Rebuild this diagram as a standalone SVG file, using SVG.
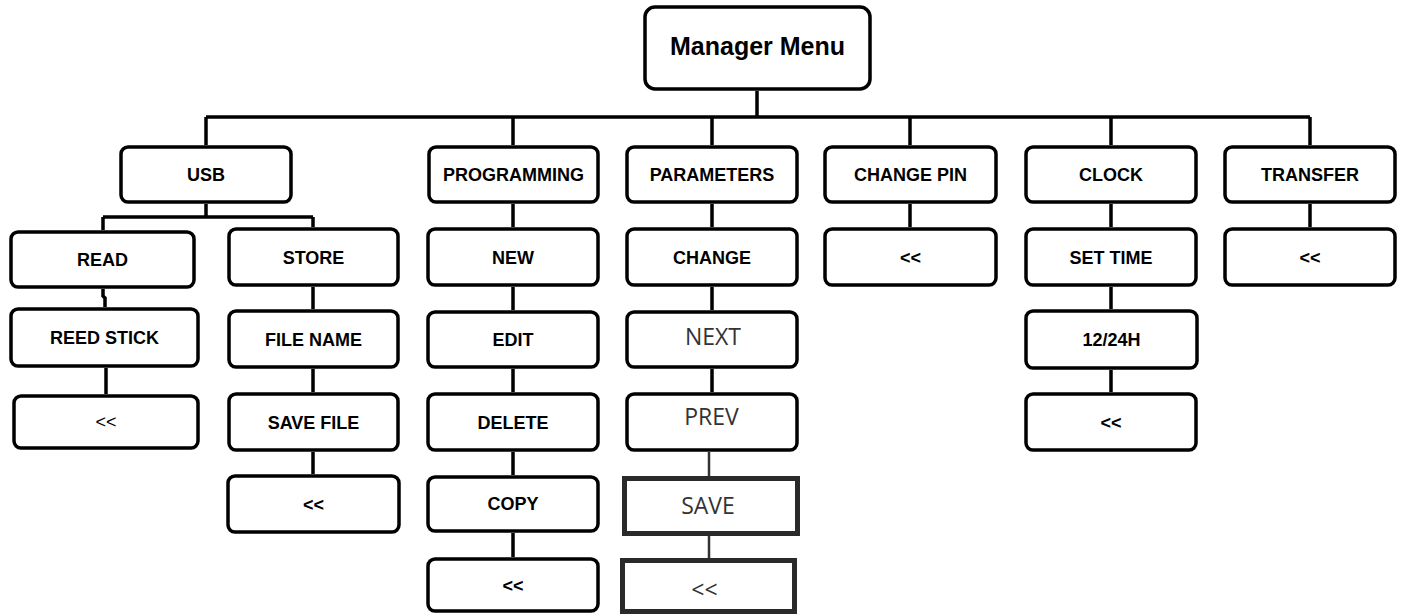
<svg xmlns="http://www.w3.org/2000/svg" width="1403" height="615" viewBox="0 0 1403 615">
<style>
.b{fill:#fff;stroke:#000;stroke-width:3.5}
.s{fill:#fff;stroke:#2a2a2a;stroke-width:5}
.t{font-family:"Liberation Sans",Arial,sans-serif;font-weight:bold;font-size:18px;fill:#000;text-anchor:middle}
.r{font-family:"Liberation Sans",Arial,sans-serif;font-size:18px;fill:#000;text-anchor:middle}
.g{font-family:"Open Sans","Noto Sans",sans-serif;font-size:23px;fill:#333;text-anchor:middle}
.c{fill:none;stroke:#000;stroke-width:3.5}
.c2{fill:none;stroke:#333;stroke-width:2.5}
</style>
<rect width="1403" height="615" fill="#fff"/>
<g id="connectors">
<path class="c" stroke-width="4" d="M757,91V117M206,117H1310M206,117V145M513,117V145M712,117V145M910,117V145M1111,117V145M1310,117V145"/>
<path class="c" d="M206,204V217M103,217H313M103,217V230M313,217V227"/>
<path class="c" d="M103,289V296L105,298V307M106,368V376L106,394"/>
<path class="c" d="M313,287V309M313,369V392M313,452V474"/>
<path class="c" d="M513,204V227M513,287V310M513,369V392M513,452V475M513,533V557"/>
<path class="c" d="M712,204V227M712,287V310M712,369V392"/>
<path class="c2" d="M709,452V476M709,536V558"/>
<path class="c" d="M910,204V227"/>
<path class="c" d="M1111,204V227M1111,287V309M1111,370V392"/>
<path class="c" d="M1310,204V227"/>
</g>
<g id="manager-menu"><rect class="b" stroke-width="4" x="645" y="7" width="225" height="82" rx="10"/><text class="t" style="font-size:25px" x="757.5" y="55">Manager Menu</text></g>
<g id="usb"><rect class="b" x="121" y="147" width="170" height="55" rx="7"/><text class="t" x="206" y="181">USB</text></g>
<g id="programming"><rect class="b" x="429" y="147" width="169" height="55" rx="7"/><text class="t" x="513.5" y="181">PROGRAMMING</text></g>
<g id="parameters"><rect class="b" x="627" y="147" width="170" height="55" rx="7"/><text class="t" x="712" y="181">PARAMETERS</text></g>
<g id="change-pin"><rect class="b" x="825" y="147" width="171" height="55" rx="7"/><text class="t" x="910.5" y="181">CHANGE PIN</text></g>
<g id="clock"><rect class="b" x="1026" y="147" width="170" height="55" rx="7"/><text class="t" x="1111" y="181">CLOCK</text></g>
<g id="transfer"><rect class="b" x="1225" y="147" width="170" height="55" rx="7"/><text class="t" x="1310" y="181">TRANSFER</text></g>

<g id="read"><rect class="b" x="11" y="232" width="183" height="55" rx="7"/><text class="t" x="102.5" y="266">READ</text></g>
<g id="store"><rect class="b" x="229" y="229" width="169" height="56" rx="7"/><text class="t" x="313.5" y="264">STORE</text></g>
<g id="new"><rect class="b" x="428" y="229" width="170" height="56" rx="7"/><text class="t" x="513" y="264">NEW</text></g>
<g id="change"><rect class="b" x="627" y="229" width="170" height="56" rx="7"/><text class="t" x="712" y="264">CHANGE</text></g>
<g id="change-pin-back"><rect class="b" x="825" y="229" width="171" height="56" rx="7"/><text class="t" x="910.5" y="264">&lt;&lt;</text></g>
<g id="set-time"><rect class="b" x="1026" y="229" width="170" height="56" rx="7"/><text class="t" x="1111" y="264">SET TIME</text></g>
<g id="transfer-back"><rect class="b" x="1225" y="229" width="170" height="56" rx="7"/><text class="t" x="1310" y="264">&lt;&lt;</text></g>

<g id="reed-stick"><rect class="b" x="11" y="309" width="187" height="57" rx="7"/><text class="t" x="104.5" y="344">REED STICK</text></g>
<g id="file-name"><rect class="b" x="229" y="311" width="169" height="56" rx="7"/><text class="t" x="313.5" y="346">FILE NAME</text></g>
<g id="edit"><rect class="b" x="428" y="312" width="170" height="55" rx="7"/><text class="t" x="513" y="346">EDIT</text></g>
<g id="next"><rect class="b" x="627" y="312" width="170" height="55" rx="7"/><text class="g" x="713" y="345">NEXT</text></g>
<g id="h1224"><rect class="b" x="1026" y="311" width="171" height="57" rx="7"/><text class="t" x="1111.5" y="346">12/24H</text></g>

<g id="read-back"><rect class="b" x="14" y="396" width="184" height="52" rx="7"/><text class="r" x="106" y="428">&lt;&lt;</text></g>
<g id="save-file"><rect class="b" x="229" y="394" width="169" height="56" rx="7"/><text class="t" x="313.5" y="429">SAVE FILE</text></g>
<g id="delete"><rect class="b" x="428" y="394" width="170" height="56" rx="7"/><text class="t" x="513" y="429">DELETE</text></g>
<g id="prev"><rect class="b" x="627" y="394" width="170" height="56" rx="7"/><text class="g" x="711.5" y="425">PREV</text></g>
<g id="clock-back"><rect class="b" x="1026" y="394" width="170" height="56" rx="7"/><text class="t" x="1111" y="429">&lt;&lt;</text></g>

<g id="store-back"><rect class="b" x="228" y="476" width="171" height="56" rx="7"/><text class="t" x="313.5" y="511">&lt;&lt;</text></g>
<g id="copy"><rect class="b" x="428" y="477" width="170" height="54" rx="7"/><text class="t" x="513" y="510">COPY</text></g>
<g id="save"><rect class="s" x="624.5" y="478.5" width="173" height="55"/><text class="g" x="708" y="514">SAVE</text></g>

<g id="programming-back"><rect class="b" x="428" y="559" width="170" height="52" rx="7"/><text class="t" x="513" y="592">&lt;&lt;</text></g>
<g id="parameters-back"><rect class="s" x="622.5" y="560.5" width="172" height="51"/><text class="g" x="704.5" y="598">&lt;&lt;</text></g>
</svg>
